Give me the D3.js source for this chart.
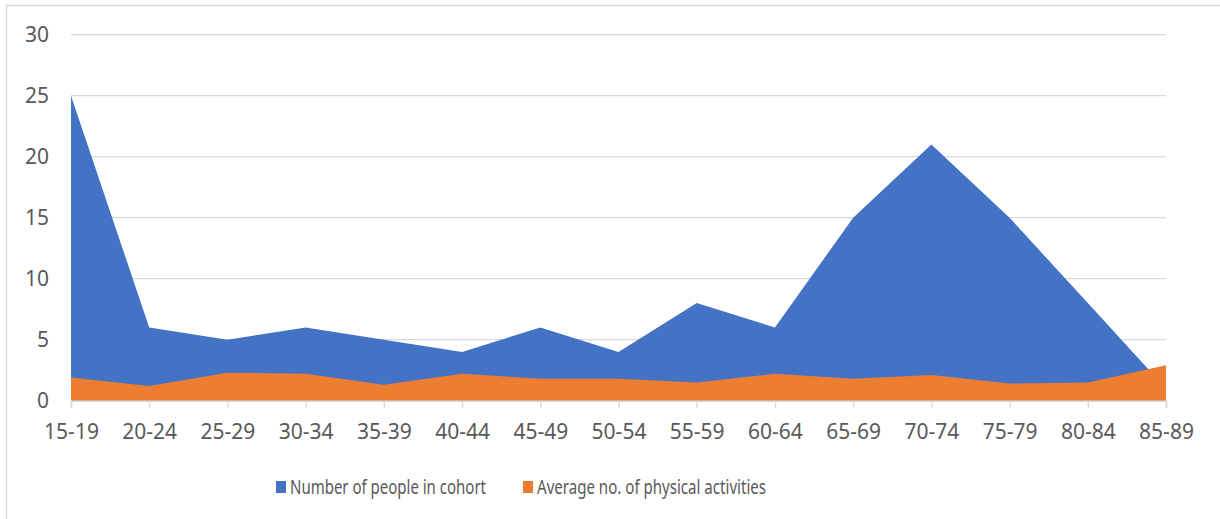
<!DOCTYPE html>
<html>
<head>
<meta charset="utf-8">
<script src="https://cdn.jsdelivr.net/npm/d3@7"></script>
<style>
  html, body { margin: 0; padding: 0; background: #fff; }
  svg { display: block; }
  text { font-family: "Noto Sans", "Open Sans", sans-serif; fill: #595959; }
</style>
</head>
<body>
<svg id="chart" width="1220" height="519"></svg>
<script>
// Age cohorts along the x axis
const cohorts = ["15-19", "20-24", "25-29", "30-34", "35-39", "40-44", "45-49", "50-54",
                 "55-59", "60-64", "65-69", "70-74", "75-79", "80-84", "85-89"];
// Number of people in each cohort
const peopleInCohort = [25, 6, 5, 6, 5, 4, 6, 4, 8, 6, 15, 21, 15, 8, 1];
// Average number of physical activities per person
const avgActivities = [1.9, 1.2, 2.3, 2.2, 1.3, 2.2, 1.8, 1.8, 1.5, 2.2, 1.8, 2.1, 1.4, 1.5, 2.9];
// Value axis ticks
const yTicks = [0, 5, 10, 15, 20, 25, 30];

const seriesNames = ["Number of people in cohort", "Average no. of physical activities"];
const seriesColors = ["#4472C4", "#ED7D31"];

const svg = d3.select("#chart");
const plot = { left: 71, right: 1166, top: 34.7, bottom: 400.7 };
const labelFont = "\"Noto Sans\", sans-serif";

// Chart frame
svg.append("rect")
  .attr("x", 6.5).attr("y", 5.5)
  .attr("width", 1240).attr("height", 540)
  .attr("fill", "none").attr("stroke", "#D9D9D9").attr("stroke-width", 1.5);

const x = d3.scalePoint().domain(cohorts).range([plot.left, plot.right]);
const y = d3.scaleLinear().domain([0, 30]).range([plot.bottom, plot.top]);

// Horizontal gridlines
svg.append("g")
  .selectAll("line")
  .data(yTicks.filter(t => t > 0))
  .join("line")
  .attr("x1", plot.left).attr("x2", plot.right)
  .attr("y1", d => y(d)).attr("y2", d => y(d))
  .attr("stroke", "#D9D9D9").attr("stroke-width", 1.3);

// Overlapping (unstacked) areas, both filled from zero
const area = d3.area()
  .x((d, i) => x(cohorts[i]))
  .y0(y(0))
  .y1(d => y(d));

[peopleInCohort, avgActivities].forEach((vals, k) => {
  svg.append("path")
    .datum(vals)
    .attr("d", area)
    .attr("fill", seriesColors[k]);
});

// Category axis
const xAxis = svg.append("g")
  .attr("transform", `translate(0,${plot.bottom})`)
  .call(d3.axisBottom(x).tickSize(7).tickPadding(16));
xAxis.select(".domain").attr("stroke", "#D9D9D9").attr("stroke-width", 1.5);
xAxis.selectAll(".tick line").attr("stroke", "#D9D9D9").attr("stroke-width", 1.5);
xAxis.selectAll(".tick text")
  .attr("fill", "#595959")
  .style("font-size", "21px")
  .style("font-family", labelFont);

// Value axis labels
const yAxis = svg.append("g")
  .attr("transform", `translate(${plot.left},0)`)
  .call(d3.axisLeft(y).tickValues(yTicks).tickSize(0).tickPadding(22));
yAxis.select(".domain").remove();
yAxis.selectAll(".tick text")
  .attr("fill", "#595959")
  .style("font-size", "21px")
  .style("font-family", labelFont);

// Legend
const legendX = [276, 523];
const legendTextWidth = [196, 229];
const legend = svg.append("g");
seriesNames.forEach((name, k) => {
  legend.append("rect")
    .attr("x", legendX[k]).attr("y", 481)
    .attr("width", 10).attr("height", 12)
    .attr("fill", seriesColors[k]);
  legend.append("text")
    .attr("x", legendX[k] + 14).attr("y", 487)
    .attr("dy", "0.35em")
    .attr("textLength", legendTextWidth[k])
    .attr("lengthAdjust", "spacingAndGlyphs")
    .style("font-size", "20px")
    .text(name);
});
</script>
</body>
</html>
